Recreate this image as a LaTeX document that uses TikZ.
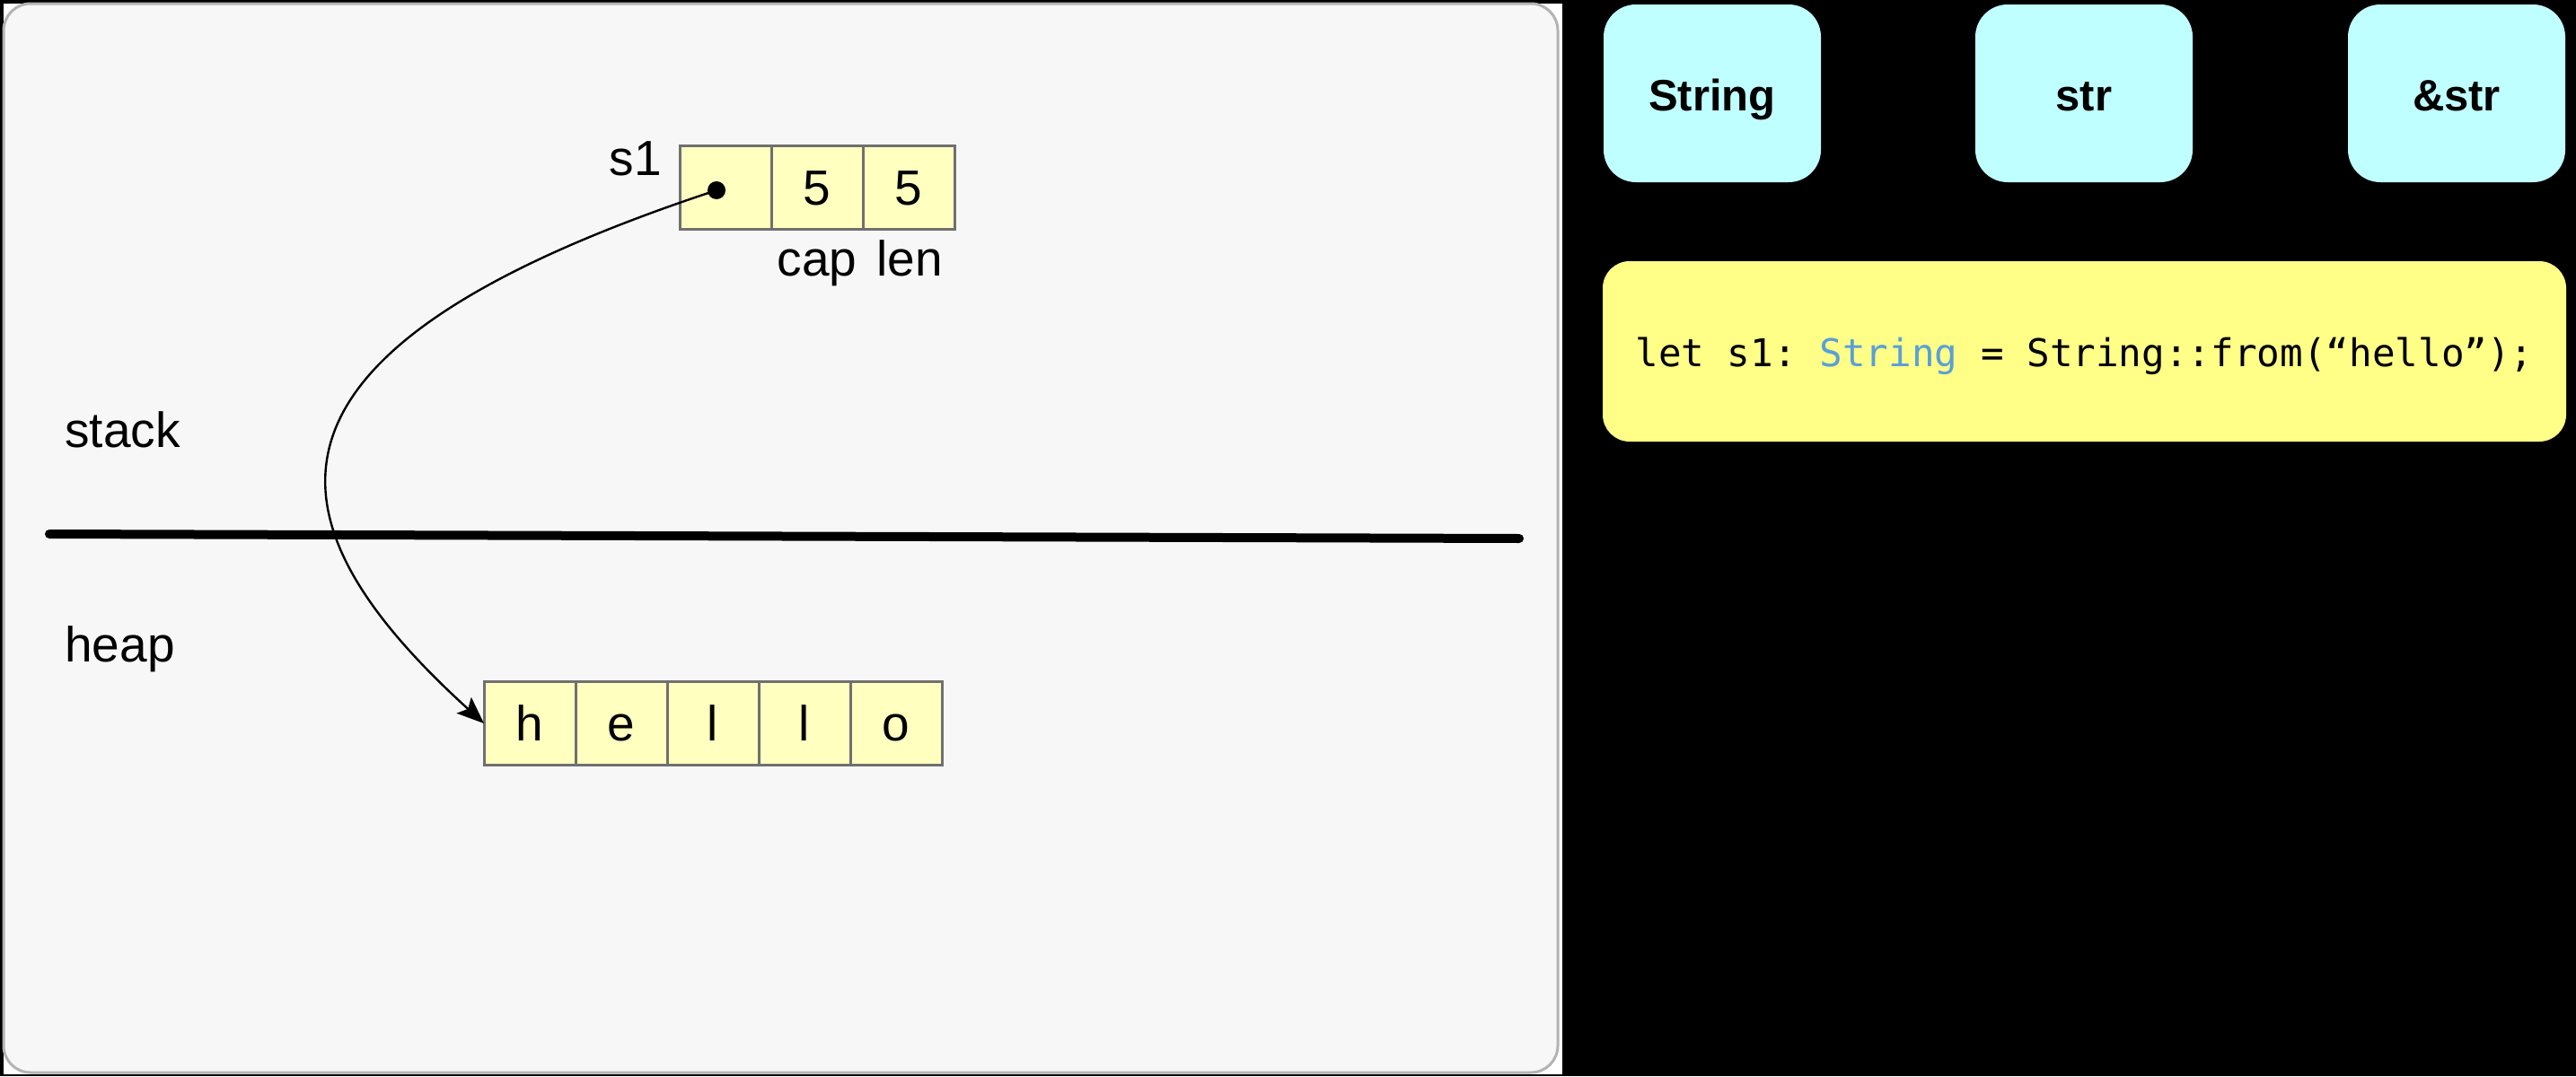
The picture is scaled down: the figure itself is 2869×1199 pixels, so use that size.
\documentclass[tikz,border=0pt]{standalone}
\usepackage{fontspec}
\setmainfont{Liberation Sans}
\newfontfamily\codefont{DejaVu Sans Mono}
\usetikzlibrary{arrows.meta}
\definecolor{panelfill}{HTML}{F7F7F7}
\definecolor{paneldraw}{HTML}{B3B3B3}
\definecolor{cellfill}{HTML}{FFFFC0}
\definecolor{celldraw}{HTML}{707070}
\definecolor{typefill}{HTML}{C0FFFF}
\definecolor{codefill}{HTML}{FFFF88}
\definecolor{codeblue}{HTML}{5AA0D6}
\begin{document}
\frenchspacing
\begin{tikzpicture}[x=0.5pt,y=-0.5pt,
  cell/.style={draw=celldraw, fill=cellfill, line width=1.5pt, minimum width=51pt, minimum height=46.5pt, inner sep=0pt, outer sep=0pt, font=\fontsize{27.5}{30}\selectfont, text height=19.5pt, text depth=0pt},
  lbl/.style={font=\fontsize{27.5}{30}\selectfont, inner sep=0pt, anchor=base},
  sidelbl/.style={font=\fontsize{27.5}{30}\selectfont, inner sep=0pt, anchor=base west},
  typebox/.style={fill=typefill, rounded corners=18pt, minimum width=121pt, minimum height=99pt, font=\fontsize{24.5}{28}\selectfont\bfseries, inner sep=0pt, text height=19pt, text depth=0pt},
  codebox/.style={fill=codefill, rounded corners=15pt, minimum width=536.5pt, minimum height=100.5pt, font=\codefont\fontsize{21.3}{24}\selectfont, inner sep=0pt, text height=16.5pt, text depth=0pt},
  ptr/.style={line width=1.2pt, -{Stealth[length=15pt,width=12pt,inset=3pt]}}
  ]
\useasboundingbox (0,0) rectangle (2869,1199);
\fill[black] (0,0) rectangle (2869,1199);
\fill[white] (4,4) rectangle (1740,1197);
% panel
\draw[fill=panelfill, draw=paneldraw, line width=1.5pt, rounded corners=15pt] (4,4) rectangle (1735,1195);
% divider
\draw[line width=5pt, line cap=round] (55,595) -- (1692,600);
% labels
\node[sidelbl] (stacklbl) at (72,498) {stack};
\node[sidelbl] (heaplbl) at (72,737) {heap};
% stack cells
\node[cell] (ptrcell) at (808,208.5) {};
\node[cell] (capcell) at (910,208.5) {5};
\node[cell] (lencell) at (1012,208.5) {5};
\node[lbl] (s1) at (708,195) {s1};
\node[lbl] (cap) at (910,307) {cap};
\node[lbl] (len) at (1013,307) {len};
% heap cells
\node[cell] (h) at (590,806) {h};
\node[cell] (e) at (692,806) {e};
\node[cell] (l1) at (794,806) {l};
\node[cell] (l2) at (896,806) {l};
\node[cell] (o) at (998,806) {o};
% pointer
\node[circle, fill=black, inner sep=0pt, minimum size=10pt] (dot) at (798,212) {};
\draw[ptr] (dot.center) .. controls (258,390) and (288,578) .. (h.west);
% right side
\node[typebox] (String) at (1907,104) {String};
\node[typebox] (str) at (2321,104) {str};
\node[typebox] (refstr) at (2736,104) {\&str};
\node[codebox] (code) at (2321.5,391.5) {let s1: \textcolor{codeblue}{String} = String::from(“hello”);};
\end{tikzpicture}
\end{document}
